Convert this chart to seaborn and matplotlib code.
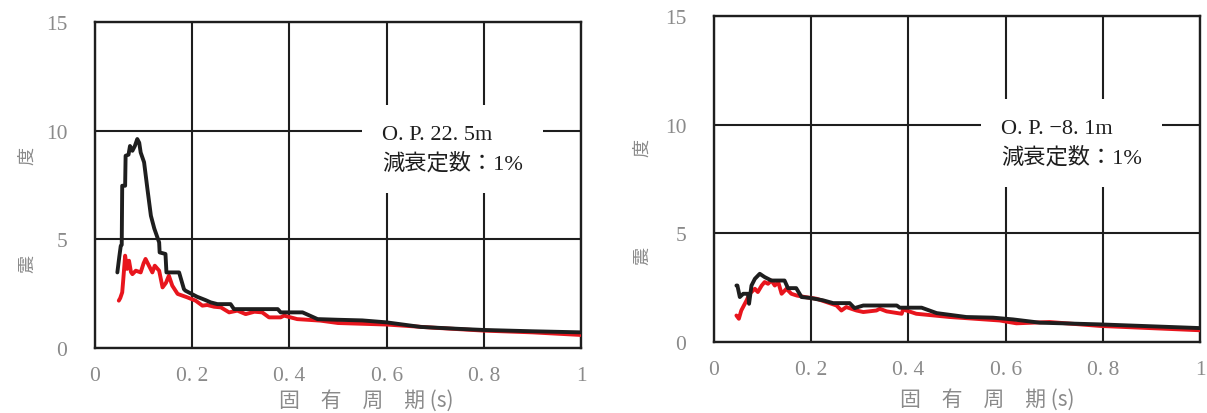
import numpy as np
import pandas as pd
import matplotlib
matplotlib.use("Agg")
import matplotlib.pyplot as plt
import seaborn as sns

# O.P.22.5m - curva nera
t_nero_sx = [0.046, 0.050, 0.053, 0.055, 0.056, 0.062, 0.063, 0.069, 0.072, 0.077, 0.082, 0.087,
             0.091, 0.094, 0.101, 0.108, 0.115, 0.122, 0.132, 0.133, 0.145, 0.147, 0.173, 0.183,
             0.186, 0.198, 0.210, 0.228, 0.238, 0.252, 0.279, 0.286, 0.376, 0.382, 0.427, 0.451,
             0.458, 0.50, 0.55, 0.60, 0.67, 0.75, 0.80, 0.90, 1.00]
v_nero_sx = [3.48, 4.2, 4.7, 4.75, 7.47, 7.47, 8.85, 8.9, 9.3, 9.08, 9.3, 9.62,
             9.45, 9.0, 8.55, 7.3, 6.09, 5.5, 4.86, 4.4, 4.33, 3.48, 3.48, 2.71,
             2.64, 2.5, 2.36, 2.2, 2.1, 2.02, 2.02, 1.79, 1.79, 1.64, 1.64, 1.40,
             1.33, 1.30, 1.27, 1.18, 0.97, 0.88, 0.83, 0.77, 0.72]
# O.P.22.5m - curva rossa
t_rosso_sx = [0.049, 0.052, 0.056, 0.058, 0.062, 0.066, 0.070, 0.074, 0.077, 0.084, 0.094, 0.100,
              0.104, 0.111, 0.118, 0.123, 0.132, 0.139, 0.146, 0.152, 0.159, 0.170, 0.190, 0.207,
              0.221, 0.231, 0.245, 0.259, 0.276, 0.293, 0.310, 0.328, 0.344, 0.358, 0.382, 0.389,
              0.416, 0.464, 0.50, 0.60, 0.70, 0.80, 0.90, 1.00]
v_rosso_sx = [2.18, 2.3, 2.56, 3.1, 4.25, 3.64, 4.02, 3.5, 3.4, 3.56, 3.48, 3.9,
              4.1, 3.79, 3.48, 3.79, 3.56, 2.79, 3.0, 3.33, 2.87, 2.49, 2.33, 2.18,
              1.95, 1.98, 1.90, 1.87, 1.64, 1.72, 1.56, 1.67, 1.64, 1.41, 1.41, 1.49,
              1.33, 1.26, 1.15, 1.08, 0.93, 0.80, 0.72, 0.60]

# O.P.-8.1m - curva nera
t_nero_dx = [0.046, 0.048, 0.053, 0.060, 0.070, 0.072, 0.077, 0.084, 0.094, 0.104, 0.118, 0.145,
             0.152, 0.169, 0.180, 0.197, 0.224, 0.245, 0.279, 0.289, 0.307, 0.376, 0.382, 0.427,
             0.458, 0.519, 0.574, 0.615, 0.670, 0.794, 1.00]
v_nero_dx = [2.60, 2.60, 2.07, 2.22, 2.22, 1.76, 2.6, 2.91, 3.14, 2.99, 2.83, 2.83,
             2.48, 2.48, 2.07, 2.03, 1.92, 1.79, 1.79, 1.56, 1.68, 1.68, 1.58, 1.58,
             1.33, 1.15, 1.12, 1.04, 0.89, 0.81, 0.64]
# O.P.-8.1m - curva rossa
t_rosso_dx = [0.046, 0.051, 0.056, 0.067, 0.073, 0.084, 0.090, 0.098, 0.104, 0.111, 0.118, 0.125,
              0.132, 0.139, 0.149, 0.159, 0.170, 0.187, 0.211, 0.231, 0.252, 0.262, 0.272, 0.293,
              0.307, 0.334, 0.341, 0.355, 0.386, 0.389, 0.416, 0.485, 0.588, 0.622, 0.69, 0.794, 1.00]
v_rosso_dx = [1.22, 1.07, 1.45, 1.92, 2.22, 2.45, 2.30, 2.60, 2.76, 2.68, 2.83, 2.60,
              2.76, 2.22, 2.45, 2.22, 2.14, 2.07, 1.99, 1.84, 1.68, 1.45, 1.61, 1.45,
              1.38, 1.45, 1.53, 1.41, 1.30, 1.50, 1.30, 1.15, 0.99, 0.86, 0.92, 0.74, 0.54]

x_ticks = [0, 0.2, 0.4, 0.6, 0.8, 1.0]
x_labels = ["0", "0. 2", "0. 4", "0. 6", "0. 8", "1"]
y_ticks = [0, 5, 10, 15]
y_labels = ["0", "5", "10", "15"]
etichette = ["O. P. 22. 5m\n減衰定数：1%", "O. P. −8. 1m\n減衰定数：1%"]

sns.set_style("white")
plt.rcParams['font.family'] = ['Liberation Serif', 'Noto Sans CJK JP', 'DejaVu Sans']

grigio = "#8a8a8a"
rosso = "#e8151d"
nero = "#1e1e1e"

fig = plt.figure(figsize=(12.07, 4.14), dpi=100)
ax_sx = fig.add_axes([0.0787, 0.157, 0.4027, 0.787])
ax_dx = fig.add_axes([0.5916, 0.1715, 0.4027, 0.787])

dati = [(t_nero_sx, v_nero_sx, t_rosso_sx, v_rosso_sx),
        (t_nero_dx, v_nero_dx, t_rosso_dx, v_rosso_dx)]

for i, (ax, (tn, vn, tr, vr)) in enumerate(zip([ax_sx, ax_dx], dati)):
    df_r = pd.DataFrame({"T": tr, "S": vr})
    df_n = pd.DataFrame({"T": tn, "S": vn})
    sns.lineplot(data=df_r, x="T", y="S", ax=ax, color=rosso, lw=2.8,
                 estimator=None, sort=False, zorder=3)
    sns.lineplot(data=df_n, x="T", y="S", ax=ax, color=nero, lw=2.8,
                 estimator=None, sort=False, zorder=4)

    ax.set_xlim(0, 1)
    ax.set_ylim(0, 15)
    ax.set_xticks(x_ticks)
    ax.set_xticklabels(x_labels)
    ax.set_yticks(y_ticks)
    ax.set_yticklabels(y_labels)
    ax.tick_params(axis='both', length=0, labelsize=15.5, labelcolor=grigio)
    ax.tick_params(axis='x', pad=13)
    ax.tick_params(axis='y', pad=20)
    ax.grid(True, color=nero, lw=1.5)
    ax.set_axisbelow(True)
    for s in ax.spines.values():
        s.set_color(nero)
        s.set_linewidth(1.7)

    ax.set_xlabel("固　有　周　期 (s)", fontsize=15, color=grigio,
                  family=['Noto Sans CJK JP', 'DejaVu Sans'])
    ax.set_ylabel("震　　　　　度", fontsize=13, color=grigio,
                  family=['Noto Sans CJK JP', 'DejaVu Sans'])

    ax.text(0.59, 0.61, etichette[i], transform=ax.transAxes, fontsize=16,
            color=nero, ha='left', va='center', linespacing=1.45, zorder=5,
            bbox=dict(boxstyle='square,pad=0.9', facecolor='white', edgecolor='none'))

ax_sx.xaxis.set_label_coords(0.558, -0.125)
ax_sx.yaxis.set_label_coords(-0.119, 0.426)
ax_dx.xaxis.set_label_coords(0.562, -0.14)
ax_dx.yaxis.set_label_coords(-0.128, 0.432)
for ax in [ax_sx, ax_dx]:
    ax.xaxis.label.set_va('top')

fig.savefig("out.png", dpi=100)
